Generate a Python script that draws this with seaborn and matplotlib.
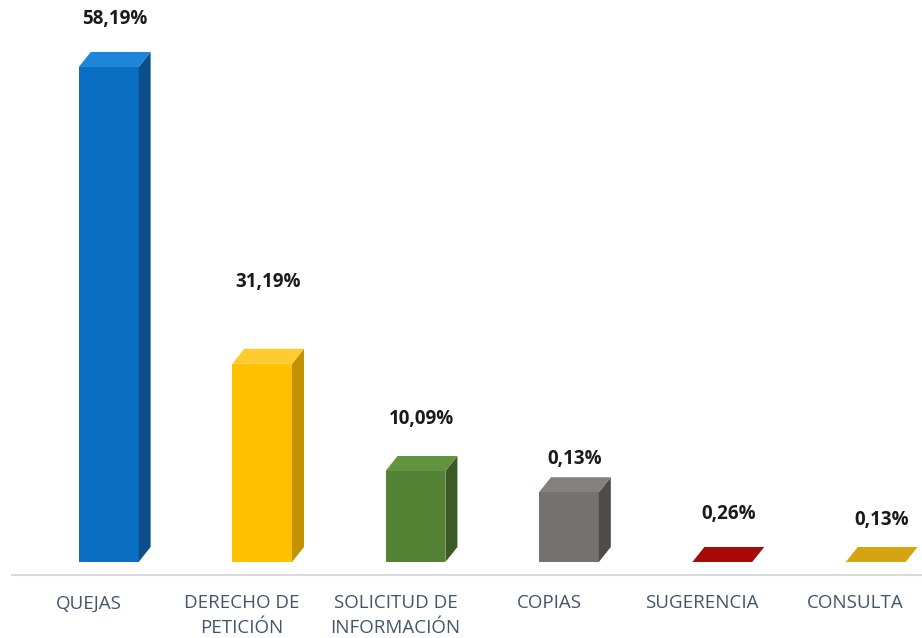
import matplotlib
matplotlib.use("Agg")
import matplotlib.pyplot as plt
import seaborn as sns
import pandas as pd
from matplotlib.patches import Polygon

# datos
categorias = ["QUEJAS", "DERECHO DE\nPETICIÓN", "SOLICITUD DE\nINFORMACIÓN",
              "COPIAS", "SUGERENCIA", "CONSULTA"]
alturas = [58.19, 23.3, 10.7, 8.2, 0.0, 0.0]          # altura visible de cada barra
etiquetas = ["58,19%", "31,19%", "10,09%", "0,13%", "0,26%", "0,13%"]

# estilo
colores = ["#0A6FC2", "#FFC000", "#548235", "#767171", "#9B0000", "#C99A00"]
lados = ["#0B4E8A", "#C49200", "#3A5C24", "#4E4B4B", "#6E0000", "#9C7700"]
techos = ["#1E86D8", "#FFCB2E", "#62943F", "#858080", "#A80A0A", "#D4A510"]
desfase_etq = [33, 67, 37, 18, 33, 27]   # px sobre la barra

df = pd.DataFrame({"categoria": categorias, "altura": alturas})

sns.set_theme(style="white")
plt.rcParams["font.family"] = ["Open Sans", "DejaVu Sans"]

fig = plt.figure(figsize=(9.22, 6.38), dpi=100)
ax = fig.add_axes([12 / 922, 63 / 638, 910 / 922, 575 / 638])

sns.barplot(data=df, x="categoria", y="altura", hue="categoria",
            palette=colores, width=0.39, legend=False, ax=ax, saturation=1)

px_x = 153.4
px_y = 8.507
ax.set_xlim(-0.5, -0.5 + 910 / px_x)
ax.set_ylim(-13 / px_y, 562 / px_y)

dx = 12 / px_x
dy = 15 / px_y
shift = 20 / px_x

for i, p in enumerate(ax.patches[:len(categorias)]):
    p.set_x(p.get_x() + shift)
    p.set_edgecolor("none")
    x0 = p.get_x()
    w = p.get_width()
    h = p.get_height()
    lado = Polygon([[x0 + w, 0], [x0 + w + dx, dy], [x0 + w + dx, h + dy], [x0 + w, h]],
                   closed=True, facecolor=lados[i], edgecolor="none", zorder=3)
    techo = Polygon([[x0, h], [x0 + dx, h + dy], [x0 + w + dx, h + dy], [x0 + w, h]],
                    closed=True, facecolor=techos[i], edgecolor="none", zorder=3)
    ax.add_patch(lado)
    ax.add_patch(techo)
    ax.annotate(etiquetas[i], xy=(x0 + (w + dx) / 2, h + dy),
                xytext=(0, desfase_etq[i] * 0.72), textcoords="offset points",
                ha="center", va="center", fontsize=13.5, fontweight="bold",
                color="#1A1A1A")

for s in ["top", "left", "right"]:
    ax.spines[s].set_visible(False)
ax.spines["bottom"].set_color("#D9D9D9")
ax.spines["bottom"].set_linewidth(1.5)

ax.set_xlabel("")
ax.set_ylabel("")
ax.set_yticks([])
ax.tick_params(axis="x", length=0, pad=14, labelsize=13.5, labelcolor="#44546A")
for t in ax.get_xticklabels():
    t.set_verticalalignment("top")
    t.set_linespacing(1.5)

fig.savefig("out.png", dpi=100)
